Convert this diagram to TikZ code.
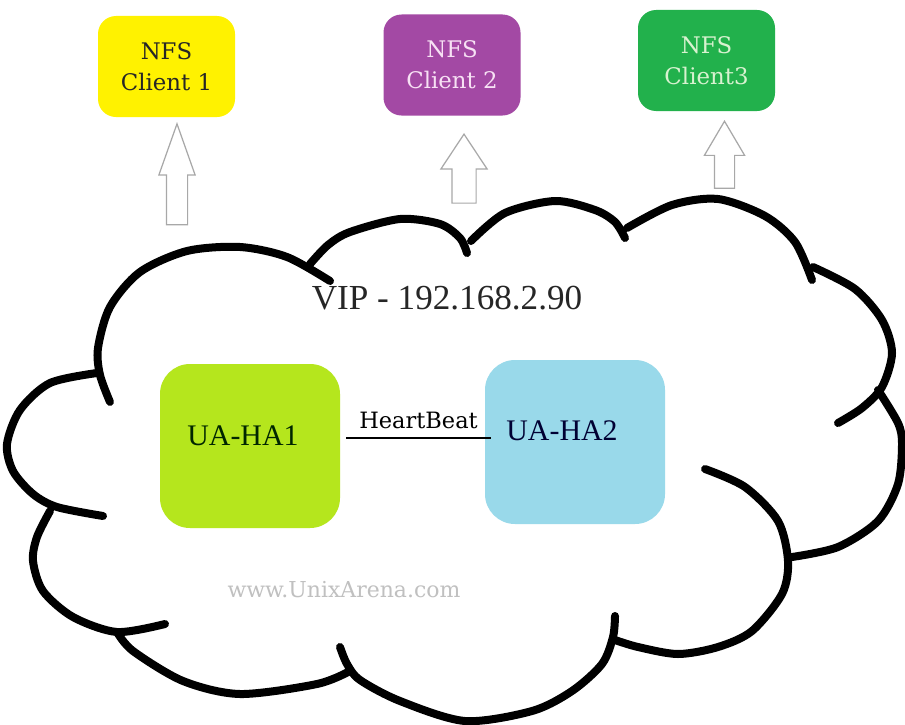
\documentclass[tikz,border=0pt]{standalone}
\usepackage{fontspec}
\setmainfont{Liberation Serif}
\newfontfamily\slabfont{DejaVu Serif}
\usepackage{tikz}
\usetikzlibrary{shapes.arrows,calc}

\definecolor{nfsyellow}{HTML}{FFF200}
\definecolor{nfspurple}{HTML}{A349A4}
\definecolor{nfsgreen}{HTML}{22B14C}
\definecolor{halime}{HTML}{B5E61D}
\definecolor{haturq}{HTML}{99D9EA}
\definecolor{arrowgray}{HTML}{A8A8A8}
\definecolor{wwwgray}{HTML}{C0C0C0}
\definecolor{pinktext}{HTML}{F7E1F4}
\definecolor{mintext}{HTML}{D8F2D0}

\begin{document}
\begin{tikzpicture}[
		x=0.2mm, y=-0.2mm,            % coordinates in pixels, y downwards
		every node/.style={align=center},
		client/.style={rounded corners=3.6mm, minimum width=27.4mm, minimum height=20.2mm,
			inner sep=0pt, font=\slabfont\fontsize{13}{17.6}\selectfont},
		hanode/.style={rounded corners=6mm, minimum width=36mm, minimum height=32.8mm},
		hatext/.style={font=\fontsize{17}{20}\selectfont},
		uparrow/.style={single arrow, draw=arrowgray, fill=white, rotate=90, anchor=tip,
			line width=0.7pt, inner xsep=0pt},
		cloudline/.style={line width=1.6mm, line cap=round, line join=round}
		]
		\useasboundingbox[fill=white] (0,0) rectangle (905,724);
		
		% NFS clients
		\node[client, fill=nfsyellow, text=black!85] (c1) at (166.5,66.5) {NFS\\Client 1};
		\node[client, fill=nfspurple, text=pinktext] (c2) at (452,65) {NFS\\Client 2};
		\node[client, fill=nfsgreen, text=mintext] (c3) at (706.5,60.5) {NFS\\Client3};
		
		% hollow arrows up to the clients (placed by their tips)
		\node[uparrow, minimum height=20.2mm, inner ysep=2mm,
			single arrow head extend=1.5mm, single arrow tip angle=39] (up1) at (177,122) {};
		\node[uparrow, minimum height=13.8mm, inner ysep=2.3mm,
			single arrow head extend=2.2mm, single arrow tip angle=67] (up2) at (464,133) {};
		\node[uparrow, minimum height=13.4mm, inner ysep=1.9mm,
			single arrow head extend=2mm, single arrow tip angle=61] (up3) at (724.5,120) {};
		
		% the cloud, one lobe at a time
		\draw[cloudline] plot[smooth] coordinates {(110,402) (100,375) (98,348) (110,307) (140,272) (187,251) (240,247) (287,257) (330,281)};
		\draw[cloudline] plot[smooth] coordinates {(310,264) (328,245) (350,232) (400,219) (440,224) (460,238) (467,253)};
		\draw[cloudline] plot[smooth] coordinates {(471,241) (505,213) (555,201) (595,210) (615,222) (625,238)};
		\draw[cloudline] plot[smooth] coordinates {(627,228) (672,205) (718,199) (765,216) (795,242) (812,280)};
		\draw[cloudline] plot[smooth] coordinates {(813,267) (855,289) (882,320) (892,353) (882,387) (862,408) (838,423)};
		\draw[cloudline] plot[smooth] coordinates {(878,390) (898,423) (902,444) (898,484) (878,521) (838,547) (792,557)};
		\draw[cloudline] plot[smooth] coordinates {(705,469) (745,487) (778,521) (788,561) (782,594) (752,631) (718,647) (678,654) (638,647) (615,640)};
		\draw[cloudline] plot[smooth] coordinates {(615,616) (613,637) (602,664) (572,691) (532,711) (465,721) (400,701) (360,680) (347,664) (340,647)};
		\draw[cloudline] plot[smooth] coordinates {(117,632) (133,651) (183,681) (240,694) (317,684) (350,671)};
		\draw[cloudline] plot[smooth] coordinates {(50,511) (37,537) (33,561) (43,591) (73,617) (117,632) (165,624)};
		\draw[cloudline] plot[smooth] coordinates {(97,373) (50,383) (20,410) (7,444) (13,471) (33,494) (57,507) (103,516)};
		
		% inside the cloud
		\node[font=\fontsize{20}{24}\selectfont, text=black!85] (vip) at (447,298) {VIP - 192.168.2.90};
		\node[hanode, fill=halime,
			label={[hatext, text=black!85!green, xshift=-1.4mm, yshift=2mm]center:UA-HA1}] (ha1) at (250,446) {};
		\node[hanode, fill=haturq,
			label={[hatext, text=black!80!blue, xshift=-2.6mm, yshift=2.2mm]center:UA-HA2}] (ha2) at (575,442) {};
		
		\draw[line width=0.9pt] ([xshift=1.2mm,yshift=1.6mm]ha1.east) -- ([xshift=1.2mm,yshift=1.6mm]ha1.east -| ha2.west)
			node[midway, above=1.5pt, font=\slabfont\fontsize{12.8}{15}\selectfont] (hb) {HeartBeat};
		
		\node[font=\slabfont\fontsize{12.5}{15}\selectfont, text=wwwgray] (www) at (344,590) {www.UnixArena.com};
	\end{tikzpicture}
\end{document}
